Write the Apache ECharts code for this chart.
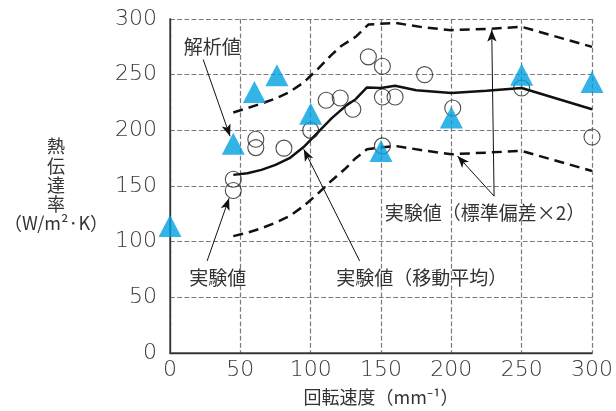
<!DOCTYPE html>
<html>
<head>
<meta charset="utf-8">
<script src="https://cdn.jsdelivr.net/npm/echarts@6/dist/echarts.min.js"></script>
<style>
html,body{margin:0;padding:0;background:#fff;}
#c{width:616px;height:411px;}
</style>
</head>
<body>
<div id="c"></div>
<script>
// ---- data ----
const xTicks = [0, 50, 100, 150, 200, 250, 300];
const yTicks = [0, 50, 100, 150, 200, 250, 300];

// experimental values (circles)
const expX = [45, 45, 61, 61, 81, 100, 111, 121, 130, 141, 151, 151, 160, 151, 181, 201, 250, 300];
const expY = [156, 146, 192, 184.5, 184, 200, 227, 229, 219, 266, 257.5, 230, 230, 186, 250, 220, 238, 194];

// analytical values (triangles)
const anaX = [0, 45, 60, 76, 100, 150, 200, 250, 300];
const anaY = [114, 188, 234.5, 249.5, 215, 181.5, 211.5, 250, 243.5];

// moving average (solid)
const avgX = [45, 55, 65, 75, 85, 95, 105, 115, 125, 132, 140, 150, 160, 175, 200, 225, 250, 300];
const avgY = [160, 161.5, 164.5, 169, 175, 185, 198, 211, 222, 228, 238.5, 238, 240, 236, 233.5, 235.5, 238, 219];

// +2 sigma (dashed upper)
const upX = [45, 55, 65, 75, 85, 95, 105, 115, 122, 132, 141, 160, 180, 200, 225, 250, 300];
const upY = [216, 220, 224, 228.5, 234.5, 243, 255, 268, 276, 284, 295, 296.5, 292.5, 290, 291, 293, 275];

// -2 sigma (dashed lower)
const loX = [45, 55, 65, 75, 85, 95, 105, 115, 125, 132, 140, 150, 160, 180, 200, 225, 250, 300];
const loY = [105, 108, 112, 117, 123, 132, 143, 155, 166, 175, 183, 184.5, 186, 182, 178.5, 180, 181.5, 163.5];

// annotations (data coordinates)
const noteTexts = ['解析値', '実験値', '実験値（移動平均）', '実験値（標準偏差×2）'];
const noteX = [30, 34, 179, 224];
const noteY = [275, 67.5, 67.5, 125.5];
const arrowFrom = [[23.6, 263.6], [26.4, 82.7], [134.8, 82.7], [230.4, 140.9], [230.4, 140.9]];
const arrowTo = [[42.7, 194.6], [42, 139.1], [95.1, 183], [228.7, 290.4], [204.4, 177]];

const zip = (xs, ys) => xs.map((x, i) => [x, ys[i]]);

const chart = echarts.init(document.getElementById('c'), null, {renderer: 'canvas'});
const tickFont = {fontFamily: 'DejaVu Sans', fontSize: 22, fontWeight: 200, color: '#3a3a3a'};
const cjk = "'Noto Sans CJK JP', 'Noto Sans', sans-serif";
const gridLine = {show: true, lineStyle: {color: '#7a7a7a', width: 1.2, type: 'dashed', dashOffset: 0}};
const frameAxis = {
  type: 'value', min: 0, max: 300, interval: 50,
  axisLine: {show: true, lineStyle: {color: '#333', width: 1.3}},
  axisTick: {show: false}, axisLabel: {show: false}, splitLine: {show: false}
};

const arrowLines = arrowFrom.map((f, i) => [{coord: f}, {coord: arrowTo[i]}]);

chart.setOption({
  animation: false,
  backgroundColor: '#fff',
  grid: {left: 170, right: 23, top: 19, bottom: 57},
  xAxis: [{
    type: 'value', min: 0, max: 300, interval: 50, position: 'bottom',
    axisLine: {show: true, onZero: false, lineStyle: {color: '#555', width: 1.5}},
    axisTick: {show: false},
    axisLabel: Object.assign({margin: 6, formatter: v => xTicks.includes(v) ? String(v) : ''}, tickFont),
    splitLine: gridLine,
    name: '回転速度（mm⁻¹）', nameLocation: 'middle', nameGap: 35,
    nameTextStyle: {fontFamily: cjk, fontSize: 18, color: '#333'}
  }, Object.assign({position: 'top'}, frameAxis)],
  yAxis: [{
    type: 'value', min: 0, max: 300, interval: 50, position: 'left',
    axisLine: {show: true, onZero: false, lineStyle: {color: '#555', width: 1.5}},
    axisTick: {show: false},
    axisLabel: Object.assign({margin: 13, formatter: v => yTicks.includes(v) ? String(v) : ''}, tickFont),
    splitLine: gridLine
  }, Object.assign({position: 'right'}, frameAxis)],
  series: [
    {
      type: 'line', data: zip(upX, upY), symbol: 'none', smooth: false,
      lineStyle: {color: '#111', width: 2.5, type: [10, 6]}, z: 3
    },
    {
      type: 'line', data: zip(loX, loY), symbol: 'none', smooth: false,
      lineStyle: {color: '#111', width: 2.5, type: [10, 6]}, z: 3
    },
    {
      type: 'line', data: zip(avgX, avgY), symbol: 'none', smooth: false,
      lineStyle: {color: '#111', width: 2.5}, z: 3,
      markLine: {
        silent: true, symbol: ['none', 'arrow'], symbolSize: [7, 12],
        label: {show: false},
        lineStyle: {color: '#111', width: 1, type: 'solid'},
        data: arrowLines
      }
    },
    {
      type: 'scatter', data: zip(expX, expY), symbol: 'circle', symbolSize: 16, clip: false,
      itemStyle: {color: 'rgba(255,255,255,0)', borderColor: '#222', borderWidth: 1.1}, z: 4
    },
    {
      type: 'scatter', data: zip(anaX, anaY), symbol: 'triangle', symbolSize: [23, 22], clip: false,
      itemStyle: {color: '#00a0e0'}, z: 5
    }
  ]
});

const g = noteTexts.map((t, i) => {
  const p = chart.convertToPixel({gridIndex: 0}, [noteX[i], noteY[i]]);
  return {
    type: 'text', x: p[0], y: p[1], z: 10,
    style: {text: t, font: "19px 'Noto Sans CJK JP'", fill: '#333', align: 'center', verticalAlign: 'middle'}
  };
});
g.push({
  type: 'text', x: 56, y: 185, z: 10,
  style: {text: '熱\n伝\n達\n率\n（W/m²·K）', font: "18px 'Noto Sans CJK JP'", fill: '#333',
    align: 'center', verticalAlign: 'middle', lineHeight: 19.3}
});
chart.setOption({graphic: g});
</script>
</body>
</html>
